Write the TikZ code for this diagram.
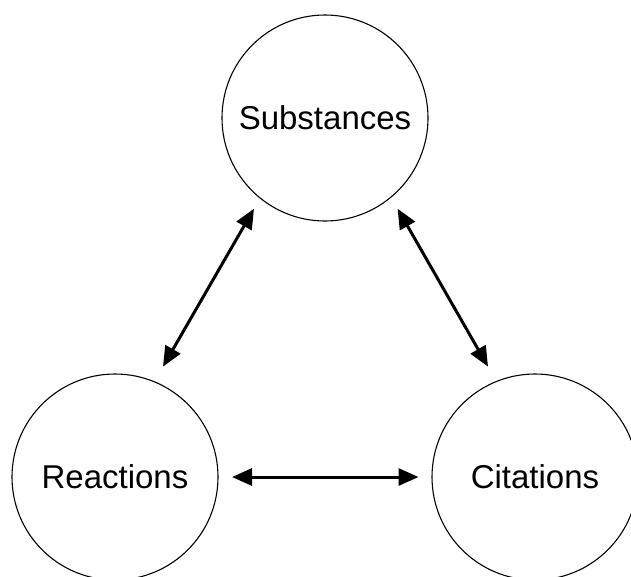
\documentclass[tikz,border=0pt]{standalone}
\usepackage{fontspec}
\setmainfont{Liberation Sans}
\usetikzlibrary{arrows.meta,calc}
\begin{document}
\begin{tikzpicture}[x=1pt,y=-1pt,
  bubble/.style={draw=black,line width=1.1pt,circle,minimum size=206pt,inner sep=0pt,
    font=\fontsize{33}{40}\selectfont},
  link/.style={line width=3pt,{Triangle[length=20pt,width=17pt]}-{Triangle[length=20pt,width=17pt]}}]
\useasboundingbox (0,0) rectangle (631,576);
\node[bubble] (S) at (325,118) {Substances};
\node[bubble] (R) at (115,477) {Reactions};
\node[bubble] (C) at (535,477) {Citations};
\draw[link] ($(S.center)+(-71,90.7)$) -- ($(R.center)+(48,-110.4)$);
\draw[link] ($(S.center)+(72.6,90.7)$) -- ($(C.center)+(-47,-110.4)$);
\draw[link] ($(R.center)+(117,0)$) -- ($(C.center)+(-116.5,0)$);
\end{tikzpicture}
\end{document}
